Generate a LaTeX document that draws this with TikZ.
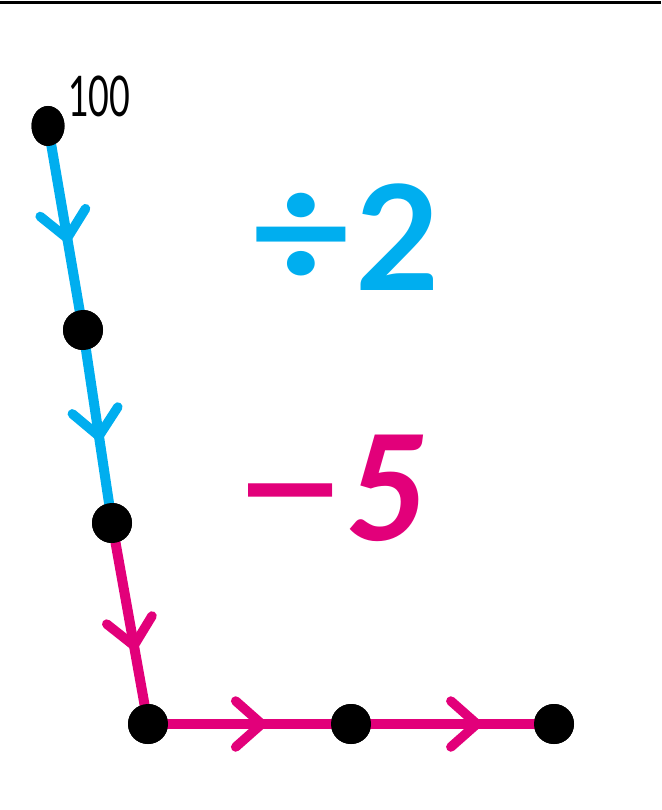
\documentclass[tikz,border=0pt]{standalone}
\usepackage{fontspec}
\setmainfont{Lato}
\usetikzlibrary{decorations.markings,shapes.geometric}
\definecolor{cblue}{HTML}{00AEEF}
\definecolor{cmag}{HTML}{E2007A}
\begin{document}
\begin{tikzpicture}[x=1pt,y=-1pt,
  dot/.style={circle,fill=black,minimum size=40pt,inner sep=0pt},
  seg/.style={line width=10pt, postaction={decorate},
    decoration={markings, mark=at position #1 with {\draw[line width=9.5pt,line cap=round,line join=round] (-26pt,23pt) -- (0pt,0pt) -- (-26pt,-23pt);}}},
  lbl/.style={anchor=base west, inner sep=0pt},
  big/.style={font=\bfseries\fontsize{146}{146}\selectfont}
]
\useasboundingbox (0,0) rectangle (661,810);
\draw[line width=3pt] (0,2.5) -- (661,2.5);
\node[ellipse, fill=black, inner sep=0pt, minimum width=33pt, minimum height=40pt] (n1) at (48,126) {};
\node[dot] (n2) at (83,330) {};
\node[dot] (n3) at (112,523) {};
\node[dot] (n4) at (148,724) {};
\node[dot] (n5) at (351,724) {};
\node[dot] (n6) at (554,724) {};
\draw[cblue, seg=0.55] (n1.center) -- (n2.center);
\draw[cblue, seg=0.55] (n2.center) -- (n3.center);
\draw[cmag, seg=0.61] (n3.center) -- (n4.center);
\draw[cmag, seg=0.56] (n4.center) -- (n5.center);
\draw[cmag, seg=0.62] (n5.center) -- (n6.center);
\node[ellipse, fill=black, inner sep=0pt, minimum width=33pt, minimum height=40pt] at (n1) {};
\node[dot] at (n2) {};
\node[dot] at (n3) {};
\node[dot] at (n4) {};
\node[dot] at (n5) {};
\node[dot] at (n6) {};
\node[lbl, font=\fontsize{56}{56}\selectfont, xscale=0.64] (t100) at (68,117) {100};
\node[cblue, big, inner sep=0pt, xscale=1.25, yscale=1.12] (tdiv) at (301,241) {÷};
\node[lbl, cblue, big] (ttwo) at (355,290) {2};
\node[cmag, big, inner sep=0pt, xscale=1.3] (tminus) at (291,512) {−};
\node[lbl, cmag, big] (tfive) at (345,540) {\textit{5}};
\end{tikzpicture}
\end{document}
